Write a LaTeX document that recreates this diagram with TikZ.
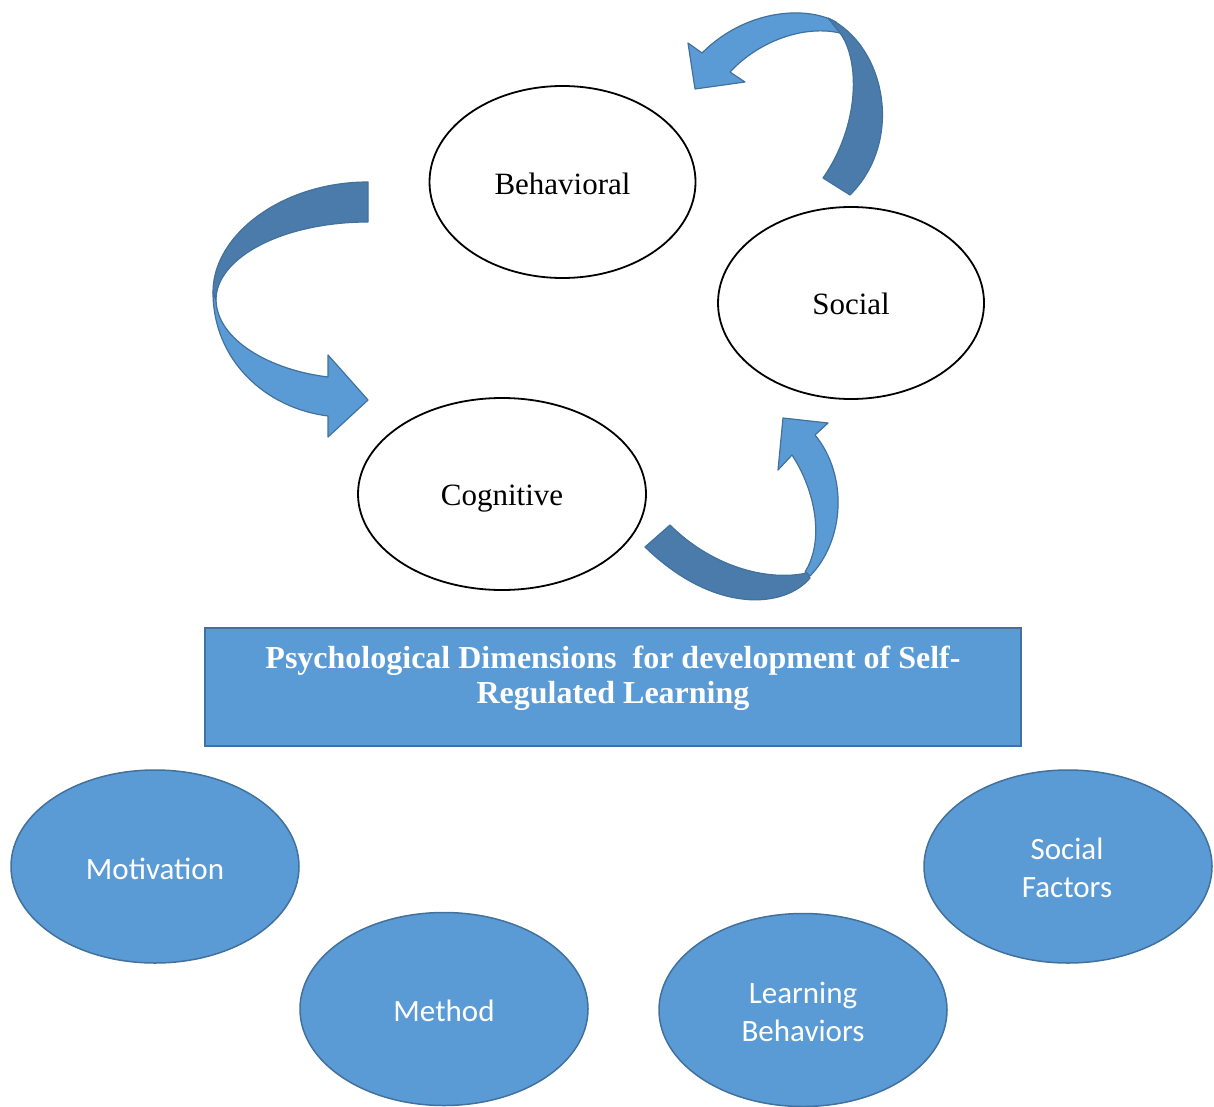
\documentclass[tikz,border=0pt]{standalone}
\usepackage{fontspec}
\setmainfont{Liberation Serif}
\newfontfamily\calib{Carlito}
\usetikzlibrary{shapes.geometric}
\definecolor{fillblue}{HTML}{5B9BD5}
\definecolor{edgeblue}{HTML}{41719C}
\definecolor{foldblue}{HTML}{4A7BAB}
\begin{document}
\begin{tikzpicture}[x=1pt,y=-1pt,
  ring/.style={ellipse, draw=black, line width=1.8pt, fill=white,
    minimum width=266pt, minimum height=192pt, inner sep=0pt},
  ringtext/.style={anchor=base, inner sep=0pt, font=\fontsize{31}{37}\selectfont},
  blob/.style={ellipse, draw=edgeblue, line width=1.5pt, fill=fillblue,
    minimum width=288pt, minimum height=193pt, inner sep=0pt},
  blobtext/.style={inner sep=0pt, text=white, align=center,
    font=\calib\fontsize{31}{38}\selectfont},
  bandlight/.style={fill=fillblue, draw=edgeblue, line width=1.2pt, line join=round},
  banddark/.style={fill=foldblue, draw=edgeblue, line width=1.2pt, line join=round}]
\useasboundingbox (0,0) rectangle (1214,1107);

% the three psychological dimensions
\node[ring] (beh) at (562.5,182) {};
\node[ring] (soc) at (851,303) {};
\node[ring, minimum width=288pt] (cog) at (502,494) {};
\node[ringtext] (behtext) at (562.5,194.5) {Behavioral};
\node[ringtext] (soctext) at (851,314.5) {Social};
\node[ringtext] (cogtext) at (502,505) {Cognitive};

% curved arrow: Social -> Behavioral
\filldraw[bandlight] (836,22) .. controls (805,5) and (745,10) .. (702,53)
  -- (688,43) -- (695,89) -- (745,82) -- (730,72)
  .. controls (760,40) and (805,25) .. (840,33) -- cycle;
\filldraw[banddark] (828,18) .. controls (885,45) and (905,140) .. (850,195)
  -- (823,178)
  .. controls (860,125) and (860,60) .. (840,33) -- cycle;

% curved arrow: Behavioral -> Cognitive
\filldraw[bandlight] (213,292) .. controls (213,360) and (265,408) .. (328,416)
  -- (328,437) -- (368,400) -- (328,355) -- (328,377)
  .. controls (270,370) and (217,340) .. (216,300) -- cycle;
\filldraw[banddark] (368,182) .. controls (282,182) and (213,235) .. (213,292)
  -- (216,300)
  .. controls (216,257) and (284,222) .. (368,222) -- cycle;

% curved arrow: Cognitive -> Social
\filldraw[bandlight] (810,576) .. controls (845,540) and (848,475) .. (815,435)
  -- (828,423) -- (783,418) -- (778,470) -- (792,455)
  .. controls (815,490) and (825,540) .. (805,572) -- cycle;
\filldraw[banddark] (670,525) .. controls (710,565) and (765,582) .. (807,573)
  -- (810,578)
  .. controls (785,608) and (715,615) .. (645,547) -- cycle;

% title banner
\node[rectangle, draw=edgeblue, line width=2pt, fill=fillblue,
  minimum width=816pt, minimum height=118pt, inner sep=0pt] (banner) at (613,687) {};
\node[text=white, align=center, inner sep=0pt,
  font=\bfseries\fontsize{32}{35}\selectfont] (bannertext) at (613,678.5)
  {Psychological Dimensions\ \ for development of Self-\\Regulated Learning};

% contributing factors
\node[blob] (mot) at (155,866.5) {};
\node[blob] (met) at (444,1009) {};
\node[blob] (lrn) at (803,1010) {};
\node[blob] (sf) at (1068,866.5) {};
\node[blobtext] (mottext) at (155,869) {Motivation};
\node[blobtext] (mettext) at (444,1011) {Method};
\node[blobtext] (lrntext) at (803,1012) {Learning\\Behaviors};
\node[blobtext] (sftext) at (1067,868) {Social\\Factors};
\end{tikzpicture}
\end{document}
